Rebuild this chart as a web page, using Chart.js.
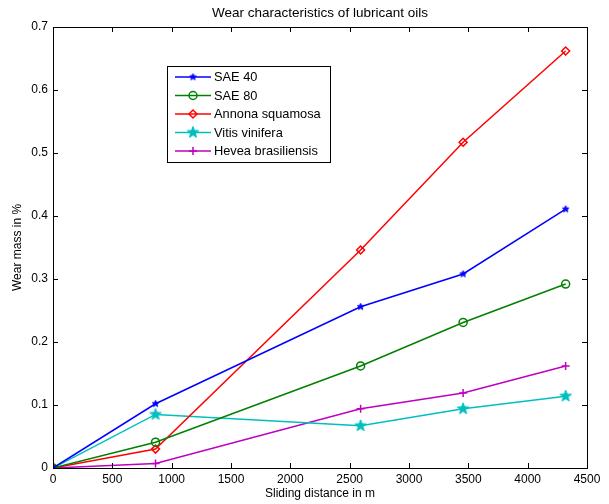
<!DOCTYPE html>
<html>
<head>
<meta charset="utf-8">
<script src="https://cdn.jsdelivr.net/npm/chart.js@4/dist/chart.umd.min.js"></script>
<style>
  html, body { margin: 0; padding: 0; background: #fff; }
  #wrap { width: 609px; height: 504px; }
</style>
</head>
<body>
<div id="wrap"><canvas id="wearChart" width="609" height="504"></canvas></div>
<script>
// sliding distance (m)
const distance = [0, 864, 2592, 3456, 4320];

// wear mass in %
const sae40 = [0, 0.102, 0.256, 0.308, 0.411];
const sae80 = [0, 0.041, 0.162, 0.231, 0.292];
const annona = [0, 0.030, 0.346, 0.517, 0.662];
const vitis = [0, 0.085, 0.067, 0.094, 0.114];
const hevea = [0, 0.007, 0.094, 0.119, 0.162];

const seriesNames = ['SAE 40', 'SAE 80', 'Annona squamosa', 'Vitis vinifera', 'Hevea brasiliensis'];

const xTicks = [0, 500, 1000, 1500, 2000, 2500, 3000, 3500, 4000, 4500];
const yTicks = [0, 0.1, 0.2, 0.3, 0.4, 0.5, 0.6, 0.7];

const FONT = 'Liberation Sans, Arial, sans-serif';

// filled five point star, like matlab's pentagram marker
function starMarker(color, r) {
    const c = document.createElement('canvas');
    const s = Math.ceil(r * 2 + 4);
    c.width = s; c.height = s;
    const g = c.getContext('2d');
    g.beginPath();
    for (let i = 0; i < 10; i++) {
        const rad = i % 2 === 0 ? r : r * 0.42;
        const a = -Math.PI / 2 + i * Math.PI / 5;
        const px = s / 2 + rad * Math.cos(a), py = s / 2 + rad * Math.sin(a);
        i === 0 ? g.moveTo(px, py) : g.lineTo(px, py);
    }
    g.closePath();
    g.fillStyle = color;
    g.strokeStyle = color;
    g.lineWidth = 1;
    g.fill();
    g.stroke();
    return c;
}

const blueStar = starMarker('#0000ff', 3.5);
const cyanStar = starMarker('#00bfbf', 6);

function toPoints(ys) {
    return distance.map((d, i) => ({ x: d, y: ys[i] }));
}

const colors = ['#0000ff', '#008000', '#ff0000', '#00bfbf', '#bf00bf'];
const styles = [blueStar, 'circle', 'rectRot', cyanStar, 'cross'];
const radii = [4, 4, 4, 6, 4];
const values = [sae40, sae80, annona, vitis, hevea];

const datasets = values.map((v, i) => ({
    label: seriesNames[i],
    data: toPoints(v),
    borderColor: colors[i],
    backgroundColor: 'rgba(0,0,0,0)',
    borderWidth: 1.5,
    pointStyle: styles[i],
    pointRadius: radii[i],
    pointBorderWidth: 1.5,
    pointBorderColor: colors[i],
    pointBackgroundColor: 'rgba(0,0,0,0)',
    tension: 0
}));

// box, inward ticks, title and legend in matlab style
const matlabFrame = {
    id: 'matlabFrame',
    afterDraw(chart) {
        const ctx = chart.ctx;
        const a = chart.chartArea;
        const xs = chart.scales.x, ys = chart.scales.y;
        ctx.save();
        ctx.strokeStyle = '#000';
        ctx.lineWidth = 1;
        ctx.strokeRect(a.left + 0.5, a.top + 0.5, a.right - a.left, a.bottom - a.top);
        ctx.beginPath();
        xTicks.forEach(t => {
            const px = Math.round(xs.getPixelForValue(t)) + 0.5;
            ctx.moveTo(px, a.bottom); ctx.lineTo(px, a.bottom - 5);
            ctx.moveTo(px, a.top); ctx.lineTo(px, a.top + 5);
        });
        yTicks.forEach(t => {
            const py = Math.round(ys.getPixelForValue(t)) + 0.5;
            ctx.moveTo(a.left, py); ctx.lineTo(a.left + 5, py);
            ctx.moveTo(a.right, py); ctx.lineTo(a.right - 5, py);
        });
        ctx.stroke();

        // title
        ctx.fillStyle = '#000';
        ctx.font = '13.5px ' + FONT;
        ctx.textAlign = 'center';
        ctx.textBaseline = 'middle';
        ctx.fillText('Wear characteristics of lubricant oils', (a.left + a.right) / 2, 13);

        // legend
        const bx = 167, by = 66, bw = 163, bh = 96;
        ctx.fillStyle = '#fff';
        ctx.fillRect(bx, by, bw, bh);
        ctx.strokeStyle = '#000';
        ctx.strokeRect(bx + 0.5, by + 0.5, bw, bh);
        ctx.font = '12.8px ' + FONT;
        ctx.textAlign = 'left';
        chart.data.datasets.forEach((ds, i) => {
            const ly = 77 + i * 18.5;
            ctx.strokeStyle = ds.borderColor;
            ctx.lineWidth = 1.5;
            ctx.beginPath();
            ctx.moveTo(175, ly); ctx.lineTo(211, ly);
            ctx.stroke();
            ctx.fillStyle = 'rgba(0,0,0,0)';
            Chart.helpers.drawPoint(ctx, {
                pointStyle: ds.pointStyle,
                radius: ds.pointRadius,
                borderWidth: 1.5,
                rotation: 0
            }, 193, ly);
            ctx.fillStyle = '#000';
            ctx.fillText(ds.label, 214, ly + 0.5);
        });
        ctx.restore();
    }
};

new Chart(document.getElementById('wearChart'), {
    type: 'line',
    data: { datasets: datasets },
    options: {
        responsive: false,
        animation: false,
        layout: { padding: { top: 27, right: 22, left: 0, bottom: 0 } },
        plugins: {
            legend: { display: false },
            title: { display: false },
            tooltip: { enabled: false }
        },
        scales: {
            x: {
                type: 'linear',
                min: 0,
                max: 4500,
                afterFit: s => { s.height = 36; },
                afterBuildTicks: s => { s.ticks = xTicks.map(v => ({ value: v })); },
                grid: { display: true, drawOnChartArea: false, drawTicks: false },
                border: { color: '#000' },
                ticks: {
                    color: '#000',
                    padding: 4,
                    font: { family: FONT, size: 12 },
                    maxRotation: 0,
                    callback: v => String(v)
                },
                title: {
                    display: true,
                    text: 'Sliding distance in m',
                    color: '#000',
                    font: { family: FONT, size: 12 },
                    padding: { top: 0, bottom: 3 }
                }
            },
            y: {
                min: 0,
                max: 0.7,
                afterFit: s => { s.width = 53; },
                afterBuildTicks: s => { s.ticks = yTicks.map(v => ({ value: v })); },
                grid: { display: true, drawOnChartArea: false, drawTicks: false },
                border: { color: '#000' },
                ticks: {
                    color: '#000',
                    padding: 5,
                    font: { family: FONT, size: 12 },
                    callback: v => String(Math.round(v * 10) / 10)
                },
                title: {
                    display: true,
                    text: 'Wear mass in %',
                    color: '#000',
                    font: { family: FONT, size: 12 },
                    padding: { top: 10, bottom: 0 }
                }
            }
        }
    },
    plugins: [matlabFrame]
});
</script>
</body>
</html>
